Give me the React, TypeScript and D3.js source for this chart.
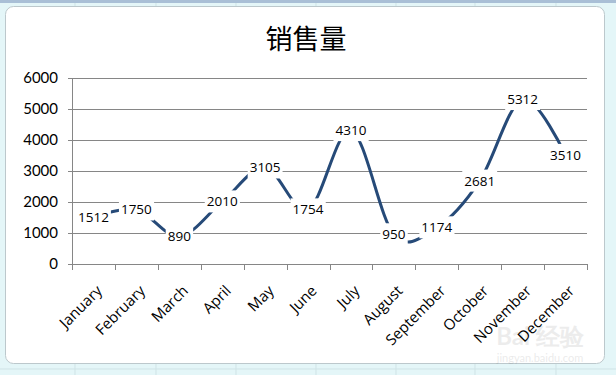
import React, { useEffect, useRef } from 'react';
import * as d3 from 'd3';

const months = ['January', 'February', 'March', 'April', 'May', 'June', 'July', 'August', 'September', 'October', 'November', 'December'];
const sales = [1512, 1750, 890, 2010, 3105, 1754, 4310, 950, 1174, 2681, 5312, 3510];
const yTicks = [0, 1000, 2000, 3000, 4000, 5000, 6000];

const W = 616;
const H = 375;

const App = () => {
  const ref = useRef<SVGSVGElement>(null);

  useEffect(() => {
    const svg = d3.select(ref.current);
    svg.selectAll('*').remove();

    // spreadsheet behind the chart
    svg.append('rect').attr('width', W).attr('height', H).attr('fill', '#e4f6f8');
    [75, 156, 236, 316, 396, 475, 556].forEach((x) => {
      svg.append('line').attr('x1', x).attr('x2', x).attr('y1', 0).attr('y2', H).attr('stroke', '#cfe3e6');
    });
    svg.append('line').attr('x1', 0).attr('x2', W).attr('y1', 369).attr('y2', 369).attr('stroke', '#cfe3e6');
    svg.append('rect').attr('width', W).attr('height', 3).attr('fill', '#a9bfd6');

    // chart area
    svg.append('rect')
      .attr('x', 5.5).attr('y', 6.5).attr('width', 599).attr('height', 357)
      .attr('rx', 8).attr('fill', '#fff').attr('stroke', '#bcc8cc');

    svg.append('text')
      .attr('x', 306).attr('y', 49)
      .attr('text-anchor', 'middle')
      .attr('font-family', '"Noto Sans CJK SC"')
      .attr('font-size', 27)
      .attr('fill', '#000')
      .text('销售量');

    const left = 72, right = 587, top = 78, bottom = 264;

    const x = d3.scaleBand().domain(months).range([left, right]);
    const y = d3.scaleLinear().domain([0, 6000]).range([bottom, top]);
    const font = 'Lato, "Open Sans", sans-serif';

    // gridlines
    yTicks.forEach((t) => {
      svg.append('line')
        .attr('x1', left - 4).attr('x2', right)
        .attr('y1', Math.round(y(t)) + 0.5).attr('y2', Math.round(y(t)) + 0.5)
        .attr('stroke', '#868686');
      svg.append('text')
        .attr('x', 58).attr('y', y(t)).attr('dy', '0.36em')
        .attr('text-anchor', 'end')
        .attr('font-family', font).attr('font-size', 15)
        .text(t);
    });

    // y axis
    svg.append('line')
      .attr('x1', left + 0.5).attr('x2', left + 0.5).attr('y1', top).attr('y2', bottom)
      .attr('stroke', '#868686');

    // x ticks
    const edges = months.map((m) => x(m) as number).concat([right]);
    edges.forEach((e) => {
      svg.append('line')
        .attr('x1', Math.round(e) + 0.5).attr('x2', Math.round(e) + 0.5)
        .attr('y1', bottom).attr('y2', bottom + 6)
        .attr('stroke', '#868686');
    });

    months.forEach((m) => {
      const cx = (x(m) as number) + x.bandwidth() / 2;
      svg.append('text')
        .attr('transform', `translate(${cx + 6},${bottom + 24}) rotate(-45)`)
        .attr('text-anchor', 'end')
        .attr('dy', '0.35em')
        .attr('font-family', '"Open Sans", sans-serif').attr('font-size', 15)
        .text(m);
    });

    // smoothed line
    const line = d3.line<number>()
      .x((_, i) => (x(months[i]) as number) + x.bandwidth() / 2)
      .y((d) => y(d))
      .curve(d3.curveCardinal.tension(0));

    svg.append('path')
      .datum(sales)
      .attr('d', line)
      .attr('fill', 'none')
      .attr('stroke', '#264a78')
      .attr('stroke-width', 3);

    // data labels with white boxes
    sales.forEach((v, i) => {
      const cx = (x(months[i]) as number) + x.bandwidth() / 2;
      const cy = y(v);
      const g = svg.append('g');
      const t = g.append('text')
        .attr('x', cx).attr('y', cy).attr('dy', '0.35em')
        .attr('text-anchor', 'middle')
        .attr('font-family', '"Open Sans", sans-serif').attr('font-size', 13.5)
        .text(v);
      const bb = (t.node() as SVGTextElement).getBBox();
      g.insert('rect', 'text')
        .attr('x', bb.x - 2).attr('y', bb.y - 2)
        .attr('width', bb.width + 4).attr('height', bb.height + 4)
        .attr('fill', '#fff');
    });

    // watermark
    svg.append('text')
      .attr('x', 540).attr('y', 345)
      .attr('text-anchor', 'middle')
      .attr('font-family', font).attr('font-size', 24).attr('font-weight', 'bold')
      .attr('fill', '#000').attr('opacity', 0.07)
      .text('Bai 经验');
    svg.append('text')
      .attr('x', 540).attr('y', 362)
      .attr('text-anchor', 'middle')
      .attr('font-family', font).attr('font-size', 11)
      .attr('fill', '#000').attr('opacity', 0.08)
      .text('jingyan.baidu.com');
  }, []);

  return (
    <svg
      ref={ref}
      width={W}
      height={H}
      style={{ position: 'absolute', left: 0, top: 0, display: 'block' }}
    />
  );
};

export default App;
